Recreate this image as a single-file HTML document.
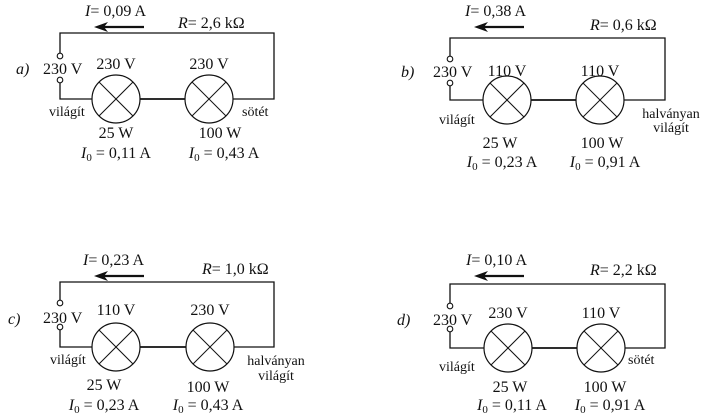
<!DOCTYPE html>
<html><head><meta charset="utf-8"><style>
html,body{margin:0;padding:0;background:#fff;}
svg{display:block;font-family:"Liberation Serif","DejaVu Serif",serif;}
text{fill:#111;}
.w{stroke:#111;stroke-width:1.3;fill:none;}
.lamp{stroke:#111;stroke-width:1.2;fill:#fff;}
.x{stroke:#111;stroke-width:1;}
.t{font-size:16px;}
.s{font-size:14px;}
</style></head><body>
<svg width="710" height="418" viewBox="0 0 710 418" xmlns="http://www.w3.org/2000/svg">
<defs>
<g id="lamp">
<circle cx="0" cy="0" r="24" class="lamp"/>
<line x1="-17" y1="-17" x2="17" y2="17" class="x"/>
<line x1="-17" y1="17" x2="17" y2="-17" class="x"/>
</g>
<g id="arr">
<line x1="6" y1="0" x2="50" y2="0" stroke="#111" stroke-width="2.2"/>
<path d="M0,0 L14,-5 L10,0 L14,5 Z" fill="#111"/>
</g>
</defs>

<!-- a -->
<g>
<path class="w" d="M60,53 V33 H274 V99 H233"/>
<path class="w" d="M60,83 V99 H92"/>
<line x1="140" y1="99" x2="185" y2="99" stroke="#111" stroke-width="1.8"/>
<circle cx="60" cy="56" r="2.8" fill="#fff" stroke="#111" stroke-width="1.1"/>
<circle cx="60" cy="80" r="2.8" fill="#fff" stroke="#111" stroke-width="1.1"/>
<use href="#lamp" x="116" y="99"/>
<use href="#lamp" x="209" y="99"/>
<use href="#arr" x="94" y="27"/>
<text x="85" y="16" class="t"><tspan font-style="italic">I</tspan>= 0,09 A</text>
<text x="178" y="28" class="t"><tspan font-style="italic">R</tspan>= 2,6 kΩ</text>
<text x="16" y="74" class="t" font-style="italic">a)</text>
<text x="43" y="74" class="t">230 V</text>
<text x="116" y="69" class="t" text-anchor="middle">230 V</text>
<text x="209" y="69" class="t" text-anchor="middle">230 V</text>
<text x="49" y="116" class="s">világít</text>
<text x="242" y="116" class="s">sötét</text>
<text x="116" y="138" class="t" text-anchor="middle">25 W</text>
<text x="220" y="138" class="t" text-anchor="middle">100 W</text>
<text x="116" y="158" class="t" text-anchor="middle"><tspan font-style="italic">I</tspan><tspan font-size="11" dy="3">0</tspan><tspan dy="-3"> = 0,11 A</tspan></text>
<text x="224" y="158" class="t" text-anchor="middle"><tspan font-style="italic">I</tspan><tspan font-size="11" dy="3">0</tspan><tspan dy="-3"> = 0,43 A</tspan></text>
</g>

<!-- b -->
<g>
<path class="w" d="M450,56 V38 H665 V100 H624"/>
<path class="w" d="M450,85 V100 H483"/>
<line x1="531" y1="100" x2="576" y2="100" stroke="#111" stroke-width="1.8"/>
<circle cx="450" cy="59" r="2.8" fill="#fff" stroke="#111" stroke-width="1.1"/>
<circle cx="450" cy="83" r="2.8" fill="#fff" stroke="#111" stroke-width="1.1"/>
<use href="#lamp" x="507" y="100"/>
<use href="#lamp" x="600" y="100"/>
<use href="#arr" x="474" y="27"/>
<text x="465" y="16" class="t"><tspan font-style="italic">I</tspan>= 0,38 A</text>
<text x="590" y="30" class="t"><tspan font-style="italic">R</tspan>= 0,6 kΩ</text>
<text x="401" y="77" class="t" font-style="italic">b)</text>
<text x="433" y="77" class="t">230 V</text>
<text x="507" y="76" class="t" text-anchor="middle">110 V</text>
<text x="600" y="76" class="t" text-anchor="middle">110 V</text>
<text x="439" y="124" class="s">világít</text>
<text x="671" y="118" class="s" text-anchor="middle">halványan</text>
<text x="671" y="132" class="s" text-anchor="middle">világít</text>
<text x="500" y="148" class="t" text-anchor="middle">25 W</text>
<text x="602" y="148" class="t" text-anchor="middle">100 W</text>
<text x="502" y="167" class="t" text-anchor="middle"><tspan font-style="italic">I</tspan><tspan font-size="11" dy="3">0</tspan><tspan dy="-3"> = 0,23 A</tspan></text>
<text x="605" y="167" class="t" text-anchor="middle"><tspan font-style="italic">I</tspan><tspan font-size="11" dy="3">0</tspan><tspan dy="-3"> = 0,91 A</tspan></text>
</g>

<!-- c -->
<g>
<path class="w" d="M60,300 V282 H274 V347 H234"/>
<path class="w" d="M60,329 V347 H92"/>
<line x1="140" y1="347" x2="186" y2="347" stroke="#111" stroke-width="1.8"/>
<circle cx="60" cy="303" r="2.8" fill="#fff" stroke="#111" stroke-width="1.1"/>
<circle cx="60" cy="327" r="2.8" fill="#fff" stroke="#111" stroke-width="1.1"/>
<use href="#lamp" x="116" y="347"/>
<use href="#lamp" x="210" y="347"/>
<use href="#arr" x="94" y="276"/>
<text x="83" y="265" class="t"><tspan font-style="italic">I</tspan>= 0,23 A</text>
<text x="202" y="274" class="t"><tspan font-style="italic">R</tspan>= 1,0 kΩ</text>
<text x="8" y="324" class="t" font-style="italic">c)</text>
<text x="43" y="323" class="t">230 V</text>
<text x="116" y="315" class="t" text-anchor="middle">110 V</text>
<text x="210" y="315" class="t" text-anchor="middle">230 V</text>
<text x="50" y="364" class="s">világít</text>
<text x="276" y="365" class="s" text-anchor="middle">halványan</text>
<text x="276" y="380" class="s" text-anchor="middle">világít</text>
<text x="104" y="390" class="t" text-anchor="middle">25 W</text>
<text x="208" y="392" class="t" text-anchor="middle">100 W</text>
<text x="104" y="410" class="t" text-anchor="middle"><tspan font-style="italic">I</tspan><tspan font-size="11" dy="3">0</tspan><tspan dy="-3"> = 0,23 A</tspan></text>
<text x="208" y="410" class="t" text-anchor="middle"><tspan font-style="italic">I</tspan><tspan font-size="11" dy="3">0</tspan><tspan dy="-3"> = 0,43 A</tspan></text>
</g>

<!-- d -->
<g>
<path class="w" d="M450,303 V284 H665 V348 H625"/>
<path class="w" d="M450,331 V348 H484"/>
<line x1="532" y1="348" x2="577" y2="348" stroke="#111" stroke-width="1.8"/>
<circle cx="450" cy="306" r="2.8" fill="#fff" stroke="#111" stroke-width="1.1"/>
<circle cx="450" cy="329" r="2.8" fill="#fff" stroke="#111" stroke-width="1.1"/>
<use href="#lamp" x="508" y="348"/>
<use href="#lamp" x="601" y="348"/>
<use href="#arr" x="474" y="276"/>
<text x="466" y="265" class="t"><tspan font-style="italic">I</tspan>= 0,10 A</text>
<text x="590" y="275" class="t"><tspan font-style="italic">R</tspan>= 2,2 kΩ</text>
<text x="397" y="325" class="t" font-style="italic">d)</text>
<text x="433" y="325" class="t">230 V</text>
<text x="508" y="318" class="t" text-anchor="middle">230 V</text>
<text x="601" y="318" class="t" text-anchor="middle">110 V</text>
<text x="439" y="371" class="s">világít</text>
<text x="628" y="364" class="s">sötét</text>
<text x="510" y="392" class="t" text-anchor="middle">25 W</text>
<text x="605" y="392" class="t" text-anchor="middle">100 W</text>
<text x="512" y="410" class="t" text-anchor="middle"><tspan font-style="italic">I</tspan><tspan font-size="11" dy="3">0</tspan><tspan dy="-3"> = 0,11 A</tspan></text>
<text x="610" y="410" class="t" text-anchor="middle"><tspan font-style="italic">I</tspan><tspan font-size="11" dy="3">0</tspan><tspan dy="-3"> = 0,91 A</tspan></text>
</g>
</svg>
</body></html>
